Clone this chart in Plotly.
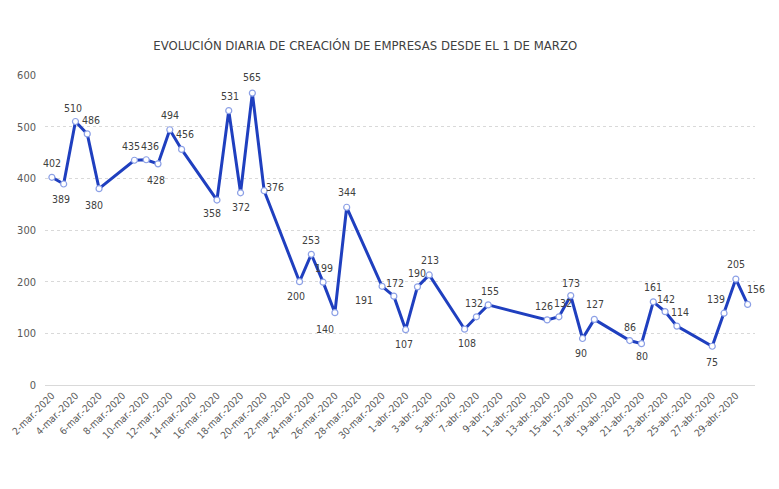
import plotly.graph_objects as go

fechas = [
    "2020-03-02", "2020-03-03", "2020-03-04", "2020-03-05", "2020-03-06",
    "2020-03-09", "2020-03-10", "2020-03-11", "2020-03-12", "2020-03-13",
    "2020-03-16", "2020-03-17", "2020-03-18", "2020-03-19", "2020-03-20",
    "2020-03-23", "2020-03-24", "2020-03-25", "2020-03-26", "2020-03-27",
    "2020-03-30", "2020-03-31", "2020-04-01", "2020-04-02", "2020-04-03",
    "2020-04-06", "2020-04-07", "2020-04-08",
    "2020-04-13", "2020-04-14", "2020-04-15", "2020-04-16", "2020-04-17",
    "2020-04-20", "2020-04-21", "2020-04-22", "2020-04-23", "2020-04-24",
    "2020-04-27", "2020-04-28", "2020-04-29", "2020-04-30",
]
empresas = [
    402, 389, 510, 486, 380,
    435, 436, 428, 494, 456,
    358, 531, 372, 565, 376,
    200, 253, 199, 140, 344,
    191, 172, 107, 190, 213,
    108, 132, 155,
    126, 132, 173, 90, 127,
    86, 80, 161, 142, 114,
    75, 139, 205, 156,
]
# label offsets in pixels (style only)
desplaz_x = [
    0, -3, -2, 4, -5,
    -3, 4, -2, 0, 3,
    -5, 1, 0, 0, 11,
    -4, 0, 1, -10, 0,
    -18, 1, -2, 0, 1,
    2, -2, 2,
    -3, 4, 0, -2, 1,
    0, 0, 0, 1, 3,
    0, -8, 0, 8,
]
desplaz_y = [
    14, -15, 14, 14, -16,
    14, 14, -16, 15, 15,
    -13, 15, -14, 16, 4,
    -14, 14, 14, -16, 15,
    -14, 13, -14, 14, 15,
    -14, 14, 14,
    14, 14, 13, -14, 15,
    14, -12, 15, 13, 14,
    -16, 14, 15, 15,
]

tick_fechas = [
    "2020-03-02", "2020-03-04", "2020-03-06", "2020-03-08", "2020-03-10",
    "2020-03-12", "2020-03-14", "2020-03-16", "2020-03-18", "2020-03-20",
    "2020-03-22", "2020-03-24", "2020-03-26", "2020-03-28", "2020-03-30",
    "2020-04-01", "2020-04-03", "2020-04-05", "2020-04-07", "2020-04-09",
    "2020-04-11", "2020-04-13", "2020-04-15", "2020-04-17", "2020-04-19",
    "2020-04-21", "2020-04-23", "2020-04-25", "2020-04-27", "2020-04-29",
]
tick_textos = [
    "2-mar.-2020", "4-mar.-2020", "6-mar.-2020", "8-mar.-2020", "10-mar.-2020",
    "12-mar.-2020", "14-mar.-2020", "16-mar.-2020", "18-mar.-2020", "20-mar.-2020",
    "22-mar.-2020", "24-mar.-2020", "26-mar.-2020", "28-mar.-2020", "30-mar.-2020",
    "1-abr.-2020", "3-abr.-2020", "5-abr.-2020", "7-abr.-2020", "9-abr.-2020",
    "11-abr.-2020", "13-abr.-2020", "15-abr.-2020", "17-abr.-2020", "19-abr.-2020",
    "21-abr.-2020", "23-abr.-2020", "25-abr.-2020", "27-abr.-2020", "29-abr.-2020",
]

FONT = "Liberation Sans Narrow, DejaVu Sans Condensed, Arial Narrow, sans-serif"

fig = go.Figure()
fig.add_trace(go.Scatter(
    x=fechas, y=empresas,
    mode="lines+markers",
    line=dict(color="#1f3fbf", width=3),
    marker=dict(symbol="circle", size=6, color="white",
                line=dict(color="#8ca0e6", width=1.2)),
    cliponaxis=False,
    showlegend=False,
))

for f, v, dx, dy in zip(fechas, empresas, desplaz_x, desplaz_y):
    fig.add_annotation(
        x=f, y=v, text=str(v), showarrow=False,
        xanchor="center", yanchor="middle",
        xshift=dx, yshift=dy,
        font=dict(family=FONT, size=10.5, color="#404040"),
    )

# page body adds an 8px offset; figure sized to fill the remaining window
fig.update_layout(
    width=771, height=481,
    margin=dict(l=37, r=24, t=67, b=104),
    paper_bgcolor="white", plot_bgcolor="white",
    title=dict(text="EVOLUCIÓN DIARIA DE CREACIÓN DE EMPRESAS DESDE EL 1 DE MARZO",
               x=0.451, xanchor="center", xref="paper",
               y=1 - 37 / 481, yanchor="middle", yref="container",
               font=dict(family=FONT, size=13, color="#404040")),
    xaxis=dict(
        type="date",
        range=["2020-03-01 10:00", "2020-04-30 15:00"],
        tickvals=tick_fechas, ticktext=tick_textos,
        tickangle=-45,
        tickfont=dict(family=FONT, size=10, color="#595959"),
        showgrid=False, zeroline=False,
        showline=True, linecolor="#d9d9d9", linewidth=1,
        ticks="", automargin=False,
    ),
    yaxis=dict(
        range=[0, 600], tickvals=[0, 100, 200, 300, 400, 500, 600],
        tickfont=dict(family=FONT, size=11, color="#595959"),
        showgrid=True, gridcolor="#d9d9d9", griddash="dot", gridwidth=1,
        zeroline=False, showline=False,
        ticklabelstandoff=8, automargin=False,
    ),
)

fig.write_html("out.html")
